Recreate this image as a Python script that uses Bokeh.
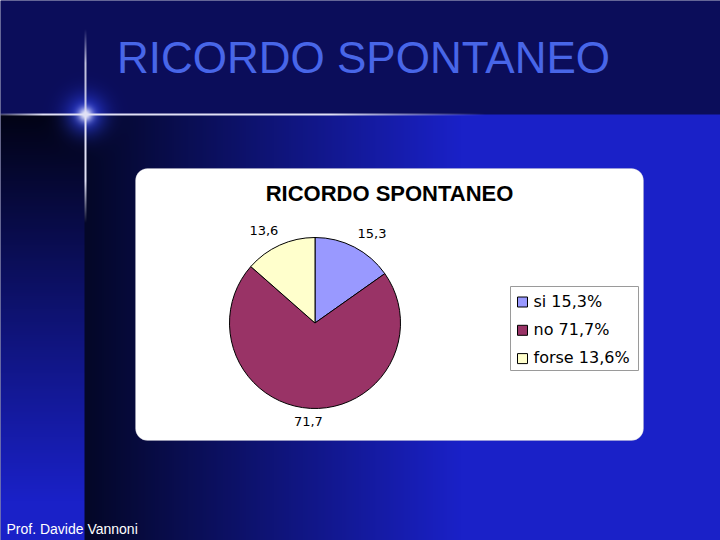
import numpy as np
from bokeh.plotting import figure
from bokeh.models import Range1d, ColumnDataSource, BoxAnnotation
from bokeh.core.properties import value
from bokeh.embed import file_html
from bokeh.resources import INLINE

# ---------------- data ----------------
categories = ["si", "no", "forse"]
values = [15.3, 71.7, 13.6]
colors = ["#9999ff", "#993366", "#ffffcc"]
slide_title = "RICORDO SPONTANEO"
chart_title = "RICORDO SPONTANEO"
footer = "Prof. Davide Vannoni"

H, W = 540, 720


def Y(yref):
    return H - yref


p = figure(width=W, height=H, output_backend="svg", toolbar_location=None,
           x_range=Range1d(0, W), y_range=Range1d(0, H),
           x_axis_location=None, y_axis_location=None, min_border=0)
p.grid.visible = False
p.outline_line_color = None
p.background_fill_color = "#0b0d5a"
p.border_fill_color = "#0b0d5a"

# ---------------- background (slide decoration) ----------------
yy, xx = np.mgrid[0:H, 0:W].astype(float)
top = np.array([11, 13, 90], float)
dark_main = np.array([4, 7, 40], float)
bright = np.array([26, 33, 200], float)
dark_left = np.array([2, 3, 22], float)
t = np.clip((xx - 86) / (460 - 86), 0, 1)
rgb = dark_main + (bright - dark_main) * t[..., None]
s = np.clip((yy - 115) / (500 - 115), 0, 1)
left = dark_left + (bright - dark_left) * s[..., None]
mask_left = xx < 84
rgb[mask_left] = left[mask_left]
rgb[yy < 114] = top


def blend(rgb, a, col):
    a = a[..., None]
    return rgb * (1 - a) + np.array(col, float) * a


d = np.sqrt((xx - 84.5) ** 2 + (yy - 113.5) ** 2)
rgb = blend(rgb, 0.8 * np.exp(-(d / 20) ** 2), (45, 65, 235))
rgb = blend(rgb, 0.95 * np.exp(-(d / 7) ** 2), (250, 250, 255))
# vertical line
va = np.where(yy < 114, np.clip((yy - 28) / 40, 0, 0.85), np.clip((222 - yy) / 42, 0, 1))
vmask = ((xx == 84) | (xx == 85)).astype(float)
rgb = blend(rgb, va * vmask, (225, 225, 245))
# horizontal line
ha = np.minimum(np.clip(0.3 + xx / 60, 0, 1), np.clip((485 - xx) / 155, 0, 1))
hmask = ((yy == 113) | (yy == 114)).astype(float)
rgb = blend(rgb, ha * hmask, (225, 225, 245))

rgba = np.zeros((H, W, 4), dtype=np.uint8)
rgba[..., :3] = np.clip(rgb, 0, 255).astype(np.uint8)
rgba[..., 3] = 255
img = np.ascontiguousarray(rgba[::-1]).view(dtype=np.uint32).reshape(H, W)
p.image_rgba(image=[img], x=0, y=0, dw=W, dh=H, level="image")

# ---------------- white chart panel ----------------
panel = BoxAnnotation(left=135, right=643, bottom=Y(440), top=Y(168),
                      fill_color="white", fill_alpha=1.0,
                      line_color="#b8b8c8", line_width=1,
                      border_radius=12, level="underlay")
p.add_layout(panel)

# ---------------- titles ----------------
p.text(x=[363], y=[Y(57)], text=[slide_title], text_font=value("Liberation Sans"),
       text_font_size="44px", text_color="#4866e8", text_align="center",
       text_baseline="middle")
p.text(x=[389], y=[Y(193)], text=[chart_title], text_font=value("Liberation Sans"),
       text_font_size="22px", text_font_style="bold", text_color="black",
       text_align="center", text_baseline="middle")
p.text(x=[6], y=[Y(528)], text=[footer], text_font=value("Liberation Sans"),
       text_font_size="14px", text_color="white", text_align="left",
       text_baseline="middle")

# ---------------- pie ----------------
cx, cy, r = 314.5, Y(322.5), 85.5
vals = np.array(values, float)
frac = vals / vals.sum()
cum = np.concatenate([[0], np.cumsum(frac)])
start = np.pi / 2 - 2 * np.pi * cum[:-1]
end = np.pi / 2 - 2 * np.pi * cum[1:]
mid = (start + end) / 2
src = ColumnDataSource(dict(start=start, end=end, color=colors))
p.wedge(x=cx, y=cy, radius=r, start_angle="start", end_angle="end",
        direction="clock", fill_color="color", line_color="black",
        line_width=1, source=src)

lab = [f"{v:.1f}".replace(".", ",") for v in values]
p.text(x=cx + 124 * np.cos(mid), y=cy + 100 * np.sin(mid) + 1, text=lab,
       text_font=value("DejaVu Sans"), text_font_size="13px", text_color="black",
       text_align="center", text_baseline="middle")

# ---------------- legend ----------------
p.quad(left=[510], right=[638], bottom=[Y(370)], top=[Y(286)],
       fill_color="white", line_color="#9a9a9a", line_width=1)
rows = np.arange(len(categories))
sq_y = [Y(301.5 + 28.3 * i) for i in rows]
p.rect(x=[522] * len(categories), y=sq_y, width=10, height=10,
       fill_color=colors, line_color="black", line_width=1)
leg = [f"{c} {l}%" for c, l in zip(categories, lab)]
p.text(x=[533] * len(categories), y=[Y(301 + 28 * i) for i in rows], text=leg,
       text_font=value("DejaVu Sans"), text_font_size="16px", text_color="black",
       text_align="left", text_baseline="middle")

open("out.html", "w").write(file_html(p, INLINE))
